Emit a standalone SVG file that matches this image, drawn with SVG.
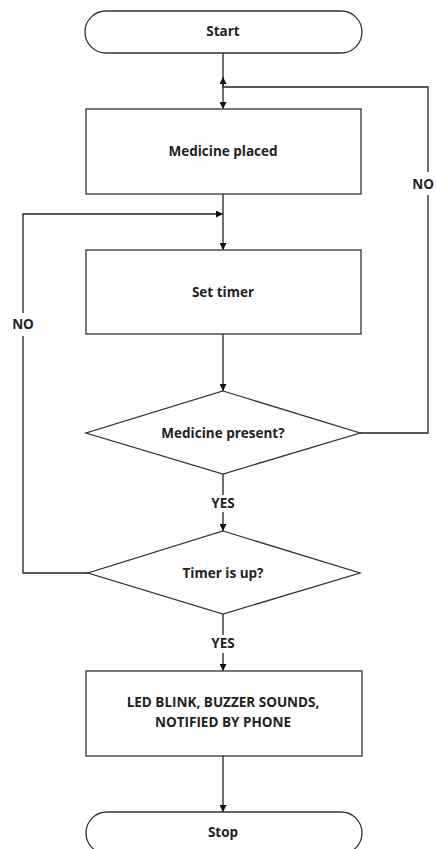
<svg xmlns="http://www.w3.org/2000/svg" width="436" height="849" viewBox="0 0 436 849">
<style>
.shape{fill:#fff;stroke:#333;stroke-width:1.3}
.line{fill:none;stroke:#222;stroke-width:1.3}
text{font-family:"Open Sans","Noto Sans","Liberation Sans",sans-serif;font-weight:bold;font-size:13.5px;fill:#222;text-anchor:middle;dominant-baseline:central}
</style>
<defs>
<marker id="arr" viewBox="0 0 10 10" refX="10" refY="5" markerWidth="7" markerHeight="7" markerUnits="userSpaceOnUse" orient="auto">
<path d="M0,0 L10,5 L0,10 z" fill="#111"/>
</marker>
</defs>
<rect width="436" height="849" fill="#fff"/>
<g id="connectors">
<path class="line" d="M223,53 V109" marker-end="url(#arr)"/>
<path class="line" d="M223,194 V250" marker-end="url(#arr)"/>
<path class="line" d="M223,334 V391" marker-end="url(#arr)"/>
<path class="line" d="M223,474 V495"/>
<path class="line" d="M223,512 V531" marker-end="url(#arr)"/>
<path class="line" d="M223,614 V635"/>
<path class="line" d="M223,653 V671" marker-end="url(#arr)"/>
<path class="line" d="M223,756 V812" marker-end="url(#arr)"/>
<path class="line" d="M360,433 H428 V195"/>
<path class="line" d="M428,172 V87 H223 V77" marker-end="url(#arr)"/>
<path class="line" d="M88,573 H23 V336"/>
<path class="line" d="M23,313 V214 H223" marker-end="url(#arr)"/>
<text x="23" y="324">NO</text>
<text x="434" y="184" style="text-anchor:end">NO</text>
<text x="223" y="503">YES</text>
<text x="223" y="643">YES</text>
</g>
<g id="start">
<rect class="shape" x="85" y="11" width="277" height="42" rx="21"/>
<text x="223" y="31">Start</text>
</g>
<g id="medicine-placed">
<rect class="shape" x="86" y="109" width="275" height="85"/>
<text x="223" y="151">Medicine placed</text>
</g>
<g id="set-timer">
<rect class="shape" x="86" y="250" width="275" height="84"/>
<text x="223" y="292">Set timer</text>
</g>
<g id="medicine-present">
<polygon class="shape" points="223,391 360,433 223,474 86,433"/>
<text x="223" y="433">Medicine present?</text>
</g>
<g id="timer-up">
<polygon class="shape" points="223,531 360,573 223,614 88,573"/>
<text x="223" y="573">Timer is up?</text>
</g>
<g id="alert">
<rect class="shape" x="86" y="671" width="276" height="85"/>
<text x="223" y="702">LED BLINK, BUZZER SOUNDS,</text>
<text x="223" y="722">NOTIFIED BY PHONE</text>
</g>
<g id="stop">
<rect class="shape" x="86" y="812" width="276" height="42" rx="21"/>
<text x="223" y="832">Stop</text>
</g>
</svg>
